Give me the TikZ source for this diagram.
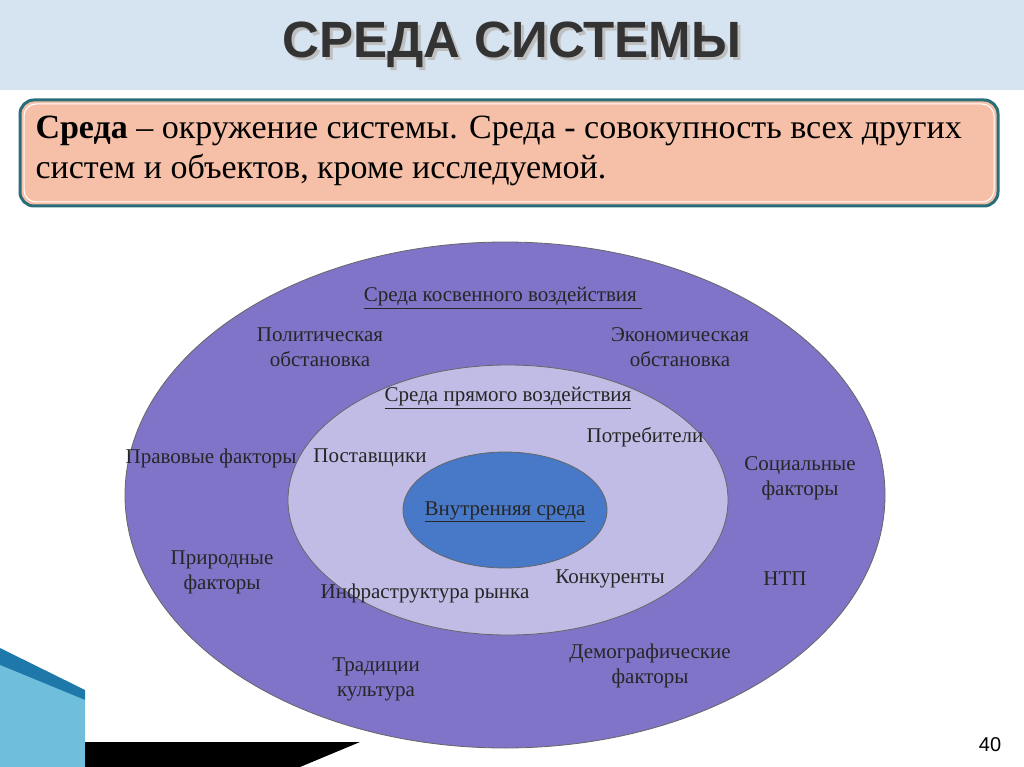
\documentclass[tikz,border=0pt]{standalone}
\usepackage{fontspec}
\setmainfont{Liberation Serif}
\newfontfamily\titlefont{Liberation Sans}
\definecolor{band}{RGB}{214,227,240}
\definecolor{decoA}{RGB}{30,120,170}
\definecolor{decoB}{RGB}{110,190,220}
\definecolor{boxborder}{RGB}{40,110,120}
\definecolor{boxfill}{RGB}{246,192,168}
\definecolor{outerc}{RGB}{128,116,200}
\definecolor{midc}{RGB}{192,188,230}
\definecolor{innerc}{RGB}{72,120,200}
\begin{document}
\begin{tikzpicture}[x=1pt,y=-1pt,
  lbl/.style={font=\fontsize{21}{25}\selectfont, align=center, text=black!85},
  ell/.style={draw=black!60, line width=0.8pt}]
\useasboundingbox (0,0) rectangle (1024,767);
\fill[white] (0,0) rectangle (1024,767);
\fill[band] (0,0) rectangle (1024,90);
\node (t) at (515,48) {\titlefont\bfseries\fontsize{51}{56}\selectfont\color{black!25}СРЕДА СИСТЕМЫ};
\node (t2) at (512,45) {\titlefont\bfseries\fontsize{51}{56}\selectfont\color{black!80}СРЕДА СИСТЕМЫ};
% decoration bottom left
\fill[decoA] (0,648) -- (85,690) -- (85,767) -- (0,767) -- cycle;
\fill[decoB] (0,665) -- (85,700) -- (85,767) -- (0,767) -- cycle;
\fill[black] (85,742) -- (360,742) -- (300,767) -- (85,767) -- cycle;
\fill[white] (85,700) rectangle (300,742);
% box
\draw[boxborder, line width=3pt, fill=boxfill, rounded corners=14pt] (20,100) rectangle (998,206);
\draw[white, line width=1pt, rounded corners=12pt] (24,104) rectangle (994,202);
\node[anchor=north west, align=left, font=\fontsize{34}{40}\selectfont] (def) at (32,112)
 {\textbf{Среда} – окружение системы. Среда - совокупность всех других\\систем и объектов, кроме исследуемой.};
% ellipses
\draw[ell, fill=outerc] (505,495) ellipse [x radius=380, y radius=253];
\draw[ell, fill=midc] (508,500) ellipse [x radius=220, y radius=135];
\draw[ell, fill=innerc] (505,510) ellipse [x radius=102, y radius=58];
\node[lbl] (a) at (503,298) {\underline{Среда косвенного воздействия }};
\node[lbl] (b) at (320,347) {Политическая\\обстановка};
\node[lbl] (c) at (680,347) {Экономическая\\обстановка};
\node[lbl] (d) at (508,398) {\underline{Среда прямого воздействия}};
\node[lbl] (e) at (645,437) {Потребители};
\node[lbl] (f) at (211,458) {Правовые факторы};
\node[lbl] (g) at (370,458) {Поставщики};
\node[lbl] (h) at (800,478) {Социальные\\факторы};
\node[lbl] (i) at (505,512) {\underline{Внутренняя среда}};
\node[lbl] (j) at (222,572) {Природные\\факторы};
\node[lbl] (k) at (610,579) {Конкуренты};
\node[lbl] (l) at (425,593) {Инфраструктура рынка};
\node[lbl] (m) at (785,579) {НТП};
\node[lbl] (n) at (376,679) {Традиции\\культура};
\node[lbl] (o) at (650,666) {Демографические\\факторы};
\node[font=\titlefont\fontsize{20}{22}\selectfont] (p) at (990,745) {40};
\end{tikzpicture}
\end{document}
